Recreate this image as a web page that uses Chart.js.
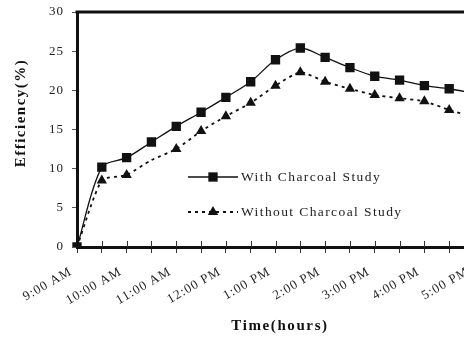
<!DOCTYPE html>
<html>
<head>
<meta charset="utf-8">
<script src="https://cdn.jsdelivr.net/npm/chart.js@4.4.1/dist/chart.umd.min.js"></script>
<style>
  html, body { margin: 0; padding: 0; background: #fff; overflow: hidden; width: 464px; height: 339px; }
  #wrap { position: relative; width: 490px; height: 339px; }
</style>
</head>
<body>
<div id="wrap"><canvas id="c" width="490" height="339"></canvas></div>
<script>
// Half-hourly categories
const categories = ['9:00 AM','9:30 AM','10:00 AM','10:30 AM','11:00 AM','11:30 AM','12:00 PM','12:30 PM',
  '1:00 PM','1:30 PM','2:00 PM','2:30 PM','3:00 PM','3:30 PM','4:00 PM','4:30 PM','5:00 PM'];
// Tick labels shown (hourly)
const tickLabels = ['9:00 AM','10:00 AM','11:00 AM','12:00 PM','1:00 PM','2:00 PM','3:00 PM','4:00 PM','5:00 PM'];
const withCharcoal = [0, 10.2, 11.4, 13.4, 15.4, 17.2, 19.1, 21.1, 23.9, 25.4, 24.2, 22.9, 21.8, 21.3, 20.6, 20.2, 19.6];
const withoutCharcoal = [0, 8.5, 9.2, 11.1, 12.5, 14.8, 16.7, 18.4, 20.6, 22.3, 21.1, 20.2, 19.4, 19.0, 18.6, 17.5, 16.6];
const seriesNames = ['With Charcoal Study', 'Without Charcoal Study'];
const xTitle = 'Time(hours)';
const yTitle = 'Efficiency(%)';

const SERIF = '"Liberation Serif", "Times New Roman", serif';

const framePlugin = {
  id: 'frame',
  beforeDraw(chart) {
    chart.ctx.letterSpacing = '1px';
  },
  afterDraw(chart) {
    const ctx = chart.ctx;
    const a = chart.chartArea;
    const xs = chart.scales.x;
    ctx.save();
    // top frame line
    ctx.strokeStyle = '#111';
    ctx.lineWidth = 3;
    ctx.beginPath();
    ctx.moveTo(a.left - 1.5, a.top);
    ctx.lineTo(a.right + 1.5, a.top);
    ctx.stroke();
    // inner x tick marks
    ctx.lineWidth = 1;
    ctx.strokeStyle = '#333';
    for (let i = 1; i < categories.length; i++) {
      const x = Math.round(xs.getPixelForValue(i)) + 0.5;
      ctx.beginPath();
      ctx.moveTo(x, a.bottom);
      ctx.lineTo(x, a.bottom - 6);
      ctx.stroke();
    }
    // axis titles
    ctx.fillStyle = '#111';
    ctx.textAlign = 'center';
    ctx.textBaseline = 'middle';
    ctx.font = 'bold 15px ' + SERIF;
    ctx.letterSpacing = '1.6px';
    ctx.fillText(xTitle, 280, 326);
    ctx.save();
    ctx.translate(21, 113);
    ctx.rotate(-Math.PI / 2);
    ctx.letterSpacing = '1.5px';
    ctx.fillText(yTitle, 0, 0);
    ctx.restore();
    // legend inside plot
    const lx = a.left + 111, lw = 50;
    const rows = [a.top + 165, a.top + 200];
    chart.data.datasets.forEach((ds, i) => {
      const y = rows[i];
      ctx.save();
      ctx.strokeStyle = '#111';
      ctx.lineWidth = ds.borderWidth;
      ctx.setLineDash(ds.borderDash || []);
      ctx.beginPath();
      ctx.moveTo(lx, y);
      ctx.lineTo(lx + lw, y);
      ctx.stroke();
      ctx.setLineDash([]);
      ctx.fillStyle = '#111';
      Chart.helpers.drawPoint(ctx, {pointStyle: ds.pointStyle, radius: ds.legendRadius, borderWidth: 0, rotation: 0}, lx + lw / 2, y);
      ctx.fillStyle = '#222';
      ctx.font = '13.5px ' + SERIF;
      ctx.letterSpacing = '1.4px';
      ctx.textAlign = 'left';
      ctx.textBaseline = 'middle';
      ctx.fillText(ds.label, lx + lw + 3, y);
      ctx.restore();
    });
    ctx.restore();
  }
};

new Chart(document.getElementById('c'), {
  type: 'line',
  data: {
    labels: categories,
    datasets: [
      {
        label: seriesNames[0],
        data: withCharcoal,
        borderColor: '#111',
        backgroundColor: '#111',
        borderWidth: 1.3,
        pointStyle: 'rect',
        pointRadius: 6.6,
        legendRadius: 6.6,
        pointBorderWidth: 0,
        tension: 0.3,
        fill: false
      },
      {
        label: seriesNames[1],
        data: withoutCharcoal,
        borderColor: '#111',
        backgroundColor: '#111',
        borderWidth: 1.8,
        borderDash: [3, 4],
        pointStyle: 'triangle',
        pointRadius: withoutCharcoal.map((v, i) => i === 3 ? 0 : 6),
        legendRadius: 6,
        pointBorderWidth: 0,
        tension: 0.2,
        fill: false
      }
    ]
  },
  options: {
    responsive: false,
    animation: false,
    events: [],
    layout: { padding: { top: 12, right: 16, bottom: 0, left: 0 } },
    plugins: { legend: { display: false }, tooltip: { enabled: false } },
    scales: {
      x: {
        type: 'category',
        offset: false,
        afterFit(s) { s.height = 92; s.paddingLeft = 0; s.paddingRight = 0; },
        border: { display: true, color: '#111', width: 3 },
        grid: { drawOnChartArea: false, drawTicks: true, tickLength: 6, color: '#333', lineWidth: 1 },
        ticks: {
          autoSkip: false,
          minRotation: 30,
          maxRotation: 30,
          padding: 11,
          labelOffset: -6,
          color: '#222',
          font: { family: SERIF, size: 13 },
          callback(v, i) { return i % 2 === 0 ? tickLabels[i / 2] : ''; }
        },
        title: { display: false }
      },
      y: {
        min: 0,
        max: 30,
        afterFit(s) { s.width = 77; s.paddingTop = 0; s.paddingBottom = 0; },
        border: { display: true, color: '#111', width: 3 },
        grid: { drawOnChartArea: false, drawTicks: true, tickLength: 5, color: '#555', lineWidth: 1 },
        ticks: {
          stepSize: 5,
          padding: 8,
          color: '#222',
          font: { family: SERIF, size: 13 }
        },
        title: { display: false }
      }
    }
  },
  plugins: [framePlugin]
});
</script>
</body>
</html>
